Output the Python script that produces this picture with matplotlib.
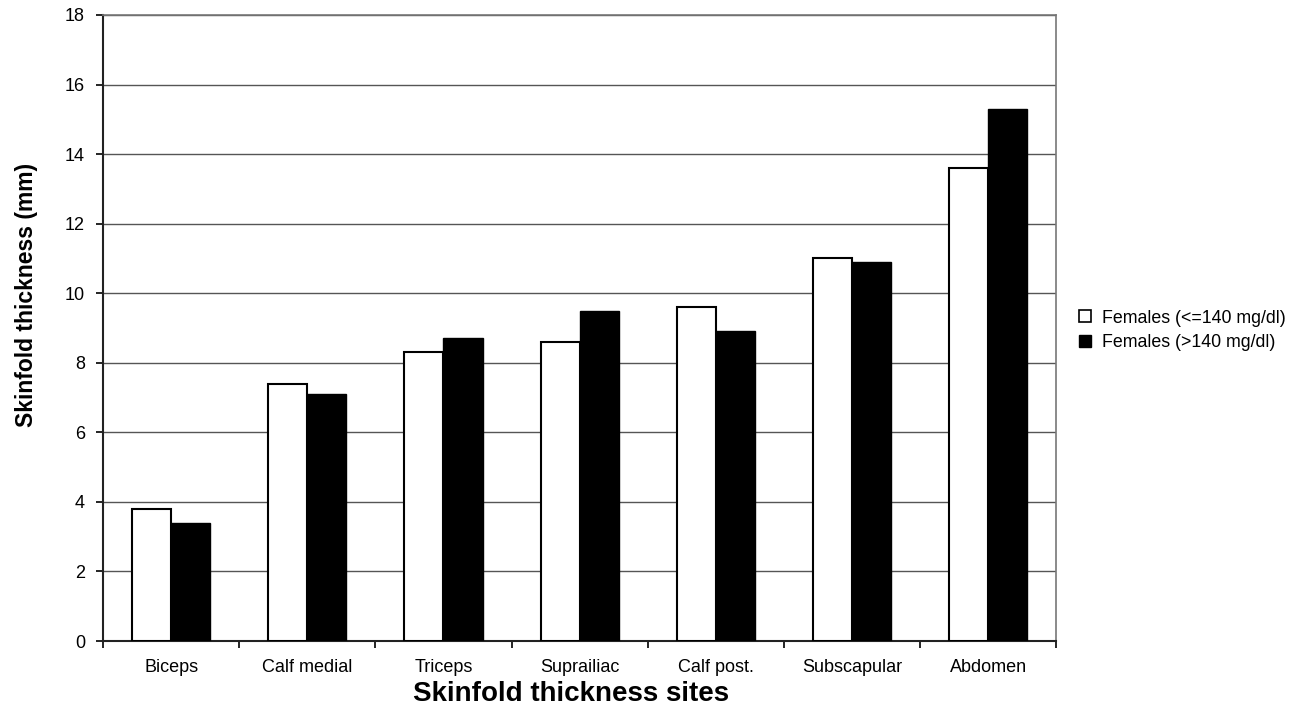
import numpy as np
import matplotlib.pyplot as plt
from matplotlib.patches import Patch

# Skinfold thickness by site
sites = ['Biceps', 'Calf medial', 'Triceps', 'Suprailiac', 'Calf post.', 'Subscapular', 'Abdomen']
low_glucose = [3.8, 7.4, 8.3, 8.6, 9.6, 11.0, 13.6]
high_glucose = [3.4, 7.1, 8.7, 9.5, 8.9, 10.9, 15.3]
series_labels = ['Females (<=140 mg/dl)', 'Females (>140 mg/dl)']

plt.rcParams['font.family'] = ['Liberation Sans', 'DejaVu Sans']

fig = plt.figure(figsize=(12.96, 7.12), dpi=100)
ax = fig.add_axes([0.0795, 0.0997, 0.7355, 0.8793])

x = np.arange(len(sites))
w = 0.287
ax.bar(x - w / 2, low_glucose, w, color='white', edgecolor='black', linewidth=1.5, zorder=3)
ax.bar(x + w / 2, high_glucose, w, color='black', edgecolor='black', linewidth=1.0, zorder=3)

ax.set_xlim(-0.5, len(sites) - 0.5)
ax.set_ylim(0, 18)
ax.set_yticks(np.arange(0, 19, 2))
ax.yaxis.grid(True, color='#555555', linewidth=1.0, zorder=0)
ax.set_xticks(x)
ax.set_xticklabels(sites)
ax.set_xticks(np.arange(-0.5, len(sites), 1), minor=True)
ax.tick_params(axis='x', which='major', length=0, pad=13, labelsize=13)
ax.tick_params(axis='x', which='minor', length=5, width=1.2, direction='out')
ax.tick_params(axis='y', length=5, width=1.2, labelsize=13, pad=8)

for side in ['left', 'bottom']:
    ax.spines[side].set_linewidth(1.5)
    ax.spines[side].set_color('#222222')
for side in ['top', 'right']:
    ax.spines[side].set_linewidth(1.2)
    ax.spines[side].set_color('#777777')

ax.set_xlabel('Skinfold thickness sites', fontsize=20, fontweight='bold', va='top')
ax.xaxis.set_label_coords(0.491, -0.064)
ax.set_ylabel('Skinfold thickness (mm)', fontsize=16.5, fontweight='bold')
ax.yaxis.set_label_coords(-0.068, 0.553)

handles = [Patch(facecolor='white', edgecolor='black', linewidth=1.2),
           Patch(facecolor='black', edgecolor='black')]
fig.legend(handles, series_labels, loc='center left', bbox_to_anchor=(0.8205, 0.536),
           frameon=False, fontsize=12.8, handlelength=0.65, handleheight=0.65,
           handletextpad=0.6, labelspacing=0.42)

fig.savefig('out.png', dpi=100)
